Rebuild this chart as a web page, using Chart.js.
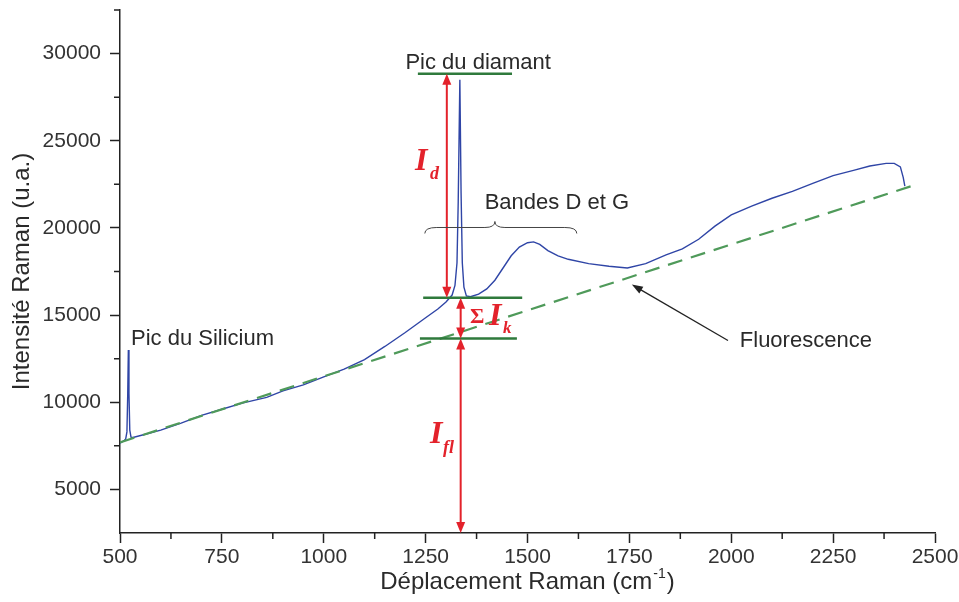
<!DOCTYPE html>
<html>
<head>
<meta charset="utf-8">
<script src="https://cdn.jsdelivr.net/npm/chart.js@4.4.1/dist/chart.umd.min.js"></script>
<style>
  html, body { margin: 0; padding: 0; background: #fff; }
  #wrap { width: 959px; height: 602px; }
</style>
</head>
<body>
<div id="wrap"><canvas id="ramanChart"></canvas></div>
<script>
// Raman spectrum (shift in cm-1, intensity in u.a.)
const ramanShift = [500, 505, 510, 514, 517, 519, 520.5, 522, 524, 527, 532, 560, 600, 650, 700, 750, 800, 860, 900, 950,
  1000, 1050, 1100, 1150, 1200, 1250, 1280, 1300, 1315, 1322, 1327, 1330, 1334, 1337, 1340, 1344, 1350, 1360, 1380, 1400,
  1420, 1440, 1460, 1480, 1500, 1515, 1530, 1550, 1575, 1600, 1650, 1700, 1745, 1790, 1840, 1880, 1920, 1960, 2000, 2050,
  2100, 2150, 2200, 2250, 2300, 2340, 2380, 2400, 2415, 2422, 2426];
const intensity = [7650, 7720, 7800, 7900, 8300, 10500, 13000, 10500, 8400, 8000, 7980, 8150, 8400, 8800, 9250, 9600, 9950, 10280, 10650, 11000,
  11450, 11900, 12450, 13200, 14000, 14850, 15350, 15750, 16150, 16700, 18000, 21500, 28500, 22000, 18000, 16600, 16100, 16050, 16200, 16500,
  17000, 17700, 18400, 18900, 19150, 19200, 19050, 18700, 18400, 18200, 17950, 17800, 17700, 17950, 18450, 18800, 19350, 20100, 20750, 21250,
  21700, 22100, 22550, 23000, 23300, 23550, 23700, 23700, 23500, 22900, 22400];

// Fluorescence baseline (dashed line)
const fluoShift = [500, 2446];
const fluoIntensity = [7700, 22430];

// Tick labels
const xTickLabels = [500, 750, 1000, 1250, 1500, 1750, 2000, 2250, 2500];
const yTickLabels = [5000, 10000, 15000, 20000, 25000, 30000];

// Intensity levels marked on the figure
const diamondTop = 28850;
const diamondBase = 16000;
const fluoLevel = 13650;

const spectrum = ramanShift.map((x, i) => ({ x: x, y: intensity[i] }));
const baseline = fluoShift.map((x, i) => ({ x: x, y: fluoIntensity[i] }));

const RED = "#e3222b";
const GREEN = "#2f7a3c";
const TEXT = "#2a2a2a";

function arrowHead(ctx, x, y, dir) {
  // dir = 1 pointing down, -1 pointing up
  ctx.beginPath();
  ctx.moveTo(x, y);
  ctx.lineTo(x - 4.5, y - dir * 11);
  ctx.lineTo(x + 4.5, y - dir * 11);
  ctx.closePath();
  ctx.fill();
}

function doubleArrow(ctx, x, yTop, yBottom) {
  ctx.strokeStyle = RED;
  ctx.fillStyle = RED;
  ctx.lineWidth = 2;
  ctx.beginPath();
  ctx.moveTo(x, yTop + 8);
  ctx.lineTo(x, yBottom - 8);
  ctx.stroke();
  arrowHead(ctx, x, yTop, -1);
  arrowHead(ctx, x, yBottom, 1);
}

const annotations = {
  id: "annotations",
  afterDatasetsDraw(chart) {
    const ctx = chart.ctx;
    const xs = chart.scales.x;
    const ys = chart.scales.y;
    const px = v => xs.getPixelForValue(v);
    const py = v => ys.getPixelForValue(v);
    ctx.save();

    // minor ticks
    ctx.strokeStyle = "#222";
    ctx.lineWidth = 1.5;
    ctx.beginPath();
    for (let v = 625; v < 2500; v += 250) {
      ctx.moveTo(px(v), ys.bottom);
      ctx.lineTo(px(v), ys.bottom + 6);
    }
    for (let v = 7500; v <= 32500; v += 5000) {
      ctx.moveTo(xs.left, py(v));
      ctx.lineTo(xs.left - 6, py(v));
    }
    ctx.stroke();

    // green level lines
    ctx.strokeStyle = GREEN;
    ctx.lineWidth = 2.5;
    ctx.beginPath();
    ctx.moveTo(px(1231), py(diamondTop)); ctx.lineTo(px(1462), py(diamondTop));
    ctx.moveTo(px(1244), py(diamondBase)); ctx.lineTo(px(1487), py(diamondBase));
    ctx.moveTo(px(1236), py(fluoLevel)); ctx.lineTo(px(1474), py(fluoLevel));
    ctx.stroke();

    // red double arrows
    doubleArrow(ctx, px(1302), py(diamondTop), py(diamondBase));
    doubleArrow(ctx, px(1336), py(diamondBase), py(fluoLevel));
    doubleArrow(ctx, px(1336), py(fluoLevel), py(2500));

    // red labels
    ctx.fillStyle = RED;
    ctx.textBaseline = "middle";
    ctx.textAlign = "left";
    let x0 = px(1224), y0 = py(23800);
    ctx.font = 'bold italic 32px "Liberation Serif"';
    ctx.fillText("I", x0, y0);
    ctx.font = 'bold italic 18px "Liberation Serif"';
    ctx.fillText("d", x0 + 15, y0 + 13);

    x0 = px(1359); y0 = py(14860);
    ctx.font = 'bold 22px "Liberation Serif"';
    ctx.fillText("\u03A3", x0, y0);
    ctx.font = 'bold italic 32px "Liberation Serif"';
    ctx.fillText("I", x0 + 19, y0 - 1);
    ctx.font = 'bold italic 17px "Liberation Serif"';
    ctx.fillText("k", x0 + 33, y0 + 11);

    x0 = px(1261); y0 = py(8150);
    ctx.font = 'bold italic 32px "Liberation Serif"';
    ctx.fillText("I", x0, y0);
    ctx.font = 'bold italic 18px "Liberation Serif"';
    ctx.fillText("fl", x0 + 13, y0 + 14);

    // text labels
    ctx.fillStyle = TEXT;
    ctx.font = '22px "Liberation Sans"';
    ctx.textAlign = "left";
    ctx.fillText("Pic du Silicium", px(527), py(13660));
    ctx.fillText("Fluorescence", px(2021), py(13490));
    ctx.textAlign = "center";
    ctx.fillText("Pic du diamant", px(1379), py(29480));
    ctx.fillText("Bandes D et G", px(1572), py(21450));

    // brace over the D and G bands
    const bl = px(1248), br = px(1621), bm = px(1420), by = py(19680);
    ctx.strokeStyle = "#444";
    ctx.lineWidth = 1;
    ctx.beginPath();
    ctx.moveTo(bl, by);
    ctx.quadraticCurveTo(bl, by - 6, bl + 12, by - 6);
    ctx.lineTo(bm - 10, by - 6);
    ctx.quadraticCurveTo(bm, by - 6, bm, by - 12);
    ctx.quadraticCurveTo(bm, by - 6, bm + 10, by - 6);
    ctx.lineTo(br - 12, by - 6);
    ctx.quadraticCurveTo(br, by - 6, br, by);
    ctx.stroke();

    // black arrow to the fluorescence line
    const tx = px(1756), ty = py(16750), sx = px(1992), sy = py(13540);
    const ang = Math.atan2(ty - sy, tx - sx);
    ctx.strokeStyle = "#222";
    ctx.fillStyle = "#222";
    ctx.lineWidth = 1.3;
    ctx.beginPath();
    ctx.moveTo(sx, sy);
    ctx.lineTo(tx - 8 * Math.cos(ang), ty - 8 * Math.sin(ang));
    ctx.stroke();
    ctx.beginPath();
    ctx.moveTo(tx, ty);
    ctx.lineTo(tx - 11 * Math.cos(ang) + 4 * Math.sin(ang), ty - 11 * Math.sin(ang) - 4 * Math.cos(ang));
    ctx.lineTo(tx - 11 * Math.cos(ang) - 4 * Math.sin(ang), ty - 11 * Math.sin(ang) + 4 * Math.cos(ang));
    ctx.closePath();
    ctx.fill();

    // x axis title with superscript
    ctx.fillStyle = TEXT;
    ctx.textAlign = "left";
    ctx.textBaseline = "alphabetic";
    const main = "D\u00e9placement Raman (cm";
    ctx.font = '24px "Liberation Sans"';
    const w1 = ctx.measureText(main).width;
    ctx.font = '14px "Liberation Sans"';
    const w2 = ctx.measureText("-1").width;
    ctx.font = '24px "Liberation Sans"';
    const w3 = ctx.measureText(")").width;
    const total = w1 + w2 + 2 + w3;
    let tx0 = (xs.left + xs.right) / 2 - total / 2;
    const base = 589;
    ctx.fillText(main, tx0, base);
    ctx.font = '14px "Liberation Sans"';
    ctx.fillText("-1", tx0 + w1 + 1, base - 11);
    ctx.font = '24px "Liberation Sans"';
    ctx.fillText(")", tx0 + w1 + w2 + 2, base);

    ctx.restore();
  }
};

new Chart(document.getElementById("ramanChart"), {
  type: "line",
  data: {
    datasets: [
      {
        label: "Fluorescence",
        data: baseline,
        borderColor: "#4f9a5a",
        borderWidth: 2.2,
        borderDash: [15, 9],
        pointRadius: 0,
        fill: false
      },
      {
        label: "Spectre",
        data: spectrum,
        borderColor: "#2f45a6",
        borderWidth: 1.4,
        pointRadius: 0,
        tension: 0,
        fill: false
      }
    ]
  },
  options: {
    responsive: true,
    maintainAspectRatio: false,
    animation: false,
    layout: { padding: { top: 10, right: 24, left: 0, bottom: 0 } },
    plugins: {
      legend: { display: false },
      tooltip: { enabled: false }
    },
    scales: {
      x: {
        type: "linear",
        min: 500,
        max: 2500,
        afterFit: s => { s.height = 69; s.paddingLeft = 0; s.paddingRight = 0; },
        border: { display: true, color: "#222", width: 1.5 },
        grid: {
          drawOnChartArea: false,
          tickLength: 10,
          tickWidth: 1.5,
          tickColor: c => (c.tick && xTickLabels.includes(c.tick.value)) ? "#222" : "rgba(0,0,0,0)"
        },
        ticks: {
          stepSize: 125,
          autoSkip: false,
          maxRotation: 0,
          padding: 2,
          color: "#333",
          font: { family: "Liberation Sans", size: 21 },
          callback: v => xTickLabels.includes(v) ? String(v) : ""
        }
      },
      y: {
        min: 2500,
        max: 32500,
        afterFit: s => { s.width = 120; s.paddingTop = 0; s.paddingBottom = 0; },
        border: { display: true, color: "#222", width: 1.5 },
        grid: {
          drawOnChartArea: false,
          tickLength: 10,
          tickWidth: 1.5,
          tickColor: c => (c.tick && yTickLabels.includes(c.tick.value)) ? "#222" : "rgba(0,0,0,0)"
        },
        ticks: {
          stepSize: 2500,
          padding: 9,
          color: "#333",
          font: { family: "Liberation Sans", size: 21 },
          callback: v => yTickLabels.includes(v) ? String(v) : ""
        },
        title: {
          display: true,
          text: "Intensit\u00e9 Raman (u.a.)",
          color: TEXT,
          font: { family: "Liberation Sans", size: 24 },
          padding: { top: 8, bottom: 0 }
        }
      }
    }
  },
  plugins: [annotations]
});
</script>
</body>
</html>
